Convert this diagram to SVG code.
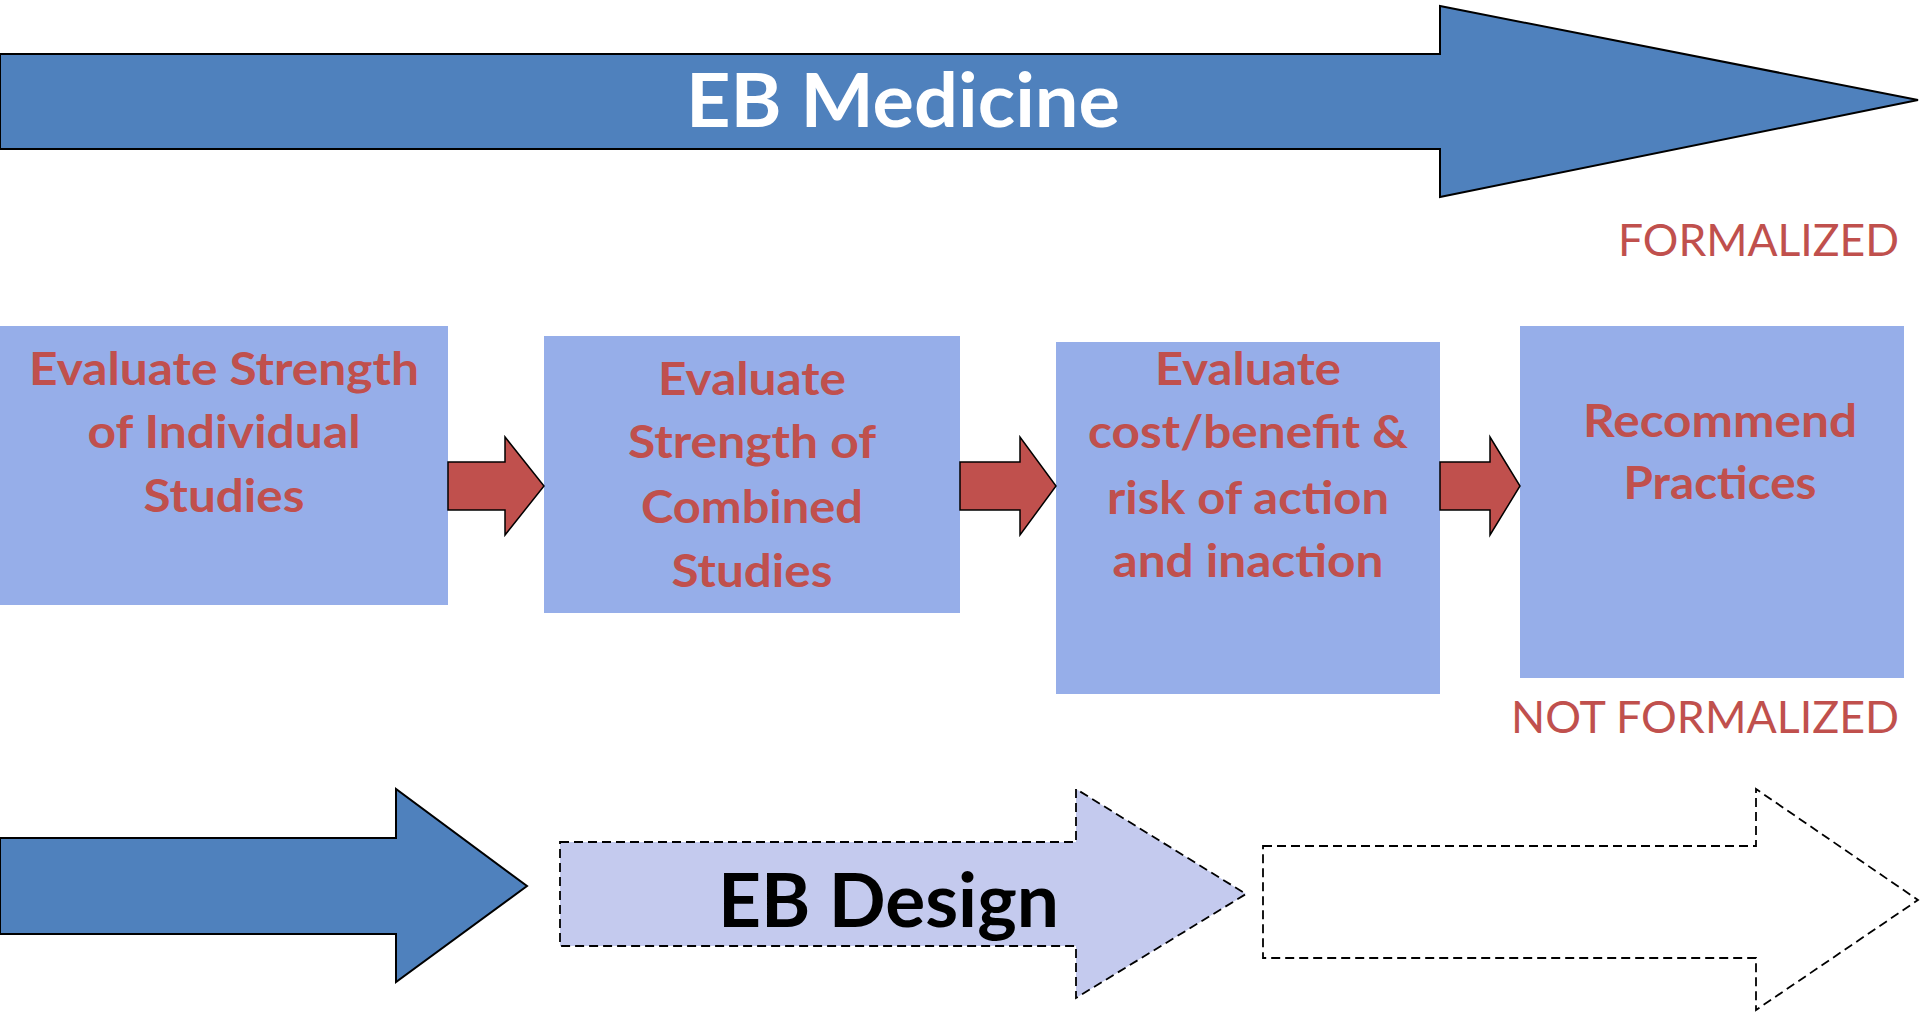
<svg xmlns="http://www.w3.org/2000/svg" width="1920" height="1012" viewBox="0 0 1920 1012">
<style>
.box{fill:#96AEE9;}
.bt{font-family:Lato,"Liberation Sans",sans-serif;font-weight:bold;font-size:46px;fill:#C0504D;text-anchor:middle;}
.lbl{font-family:Lato,"Liberation Sans",sans-serif;font-size:45px;fill:#C0504D;}
.big{font-family:Lato,"Liberation Sans",sans-serif;font-weight:bold;font-size:75px;}
.conn{fill:#C0504D;stroke:#000;stroke-width:1.5;stroke-linejoin:miter;}
.dash{stroke:#000;stroke-width:1.8;stroke-dasharray:9 5;}
</style>
<rect width="1920" height="1012" fill="#fff"/>
<g id="eb-medicine">
<path d="M0,54 H1440 V6 L1918,100 L1440,197 V149 H0 Z" fill="#4F81BD" stroke="#000" stroke-width="2"/>
<text class="big" x="686" y="127" fill="#fff" textLength="434" lengthAdjust="spacingAndGlyphs">EB Medicine</text>
</g>
<g id="label-formalized">
<text class="lbl" x="1618" y="256" textLength="281" lengthAdjust="spacingAndGlyphs">FORMALIZED</text>
</g>
<g id="label-not-formalized">
<text class="lbl" x="1511" y="733" textLength="388" lengthAdjust="spacingAndGlyphs">NOT FORMALIZED</text>
</g>
<g id="step1">
<rect class="box" x="0" y="326" width="448" height="279"/>
<text class="bt"><tspan x="224" y="385" textLength="390" lengthAdjust="spacingAndGlyphs">Evaluate Strength</tspan><tspan x="224" y="448" textLength="273" lengthAdjust="spacingAndGlyphs">of Individual</tspan><tspan x="224" y="512" textLength="161" lengthAdjust="spacingAndGlyphs">Studies</tspan></text>
</g>
<g id="step2">
<rect class="box" x="544" y="336" width="416" height="277"/>
<text class="bt"><tspan x="752" y="395" textLength="188" lengthAdjust="spacingAndGlyphs">Evaluate</tspan><tspan x="752" y="458" textLength="248" lengthAdjust="spacingAndGlyphs">Strength of</tspan><tspan x="752" y="523" textLength="222" lengthAdjust="spacingAndGlyphs">Combined</tspan><tspan x="752" y="587" textLength="161" lengthAdjust="spacingAndGlyphs">Studies</tspan></text>
</g>
<g id="step3">
<rect class="box" x="1056" y="342" width="384" height="352"/>
<text class="bt"><tspan x="1248" y="385" textLength="186" lengthAdjust="spacingAndGlyphs">Evaluate</tspan><tspan x="1248" y="448" textLength="320" lengthAdjust="spacingAndGlyphs">cost/benefit &amp;</tspan><tspan x="1248" y="514" textLength="282" lengthAdjust="spacingAndGlyphs">risk of action</tspan><tspan x="1248" y="577" textLength="271" lengthAdjust="spacingAndGlyphs">and inaction</tspan></text>
</g>
<g id="step4">
<rect class="box" x="1520" y="326" width="384" height="352"/>
<text class="bt"><tspan x="1720" y="437" textLength="274" lengthAdjust="spacingAndGlyphs">Recommend</tspan><tspan x="1720" y="499" textLength="193" lengthAdjust="spacingAndGlyphs">Practices</tspan></text>
</g>
<g id="connectors">
<path class="conn" d="M448,462 H505 V437 L544,486 L505,535 V510 H448 Z"/>
<path class="conn" d="M960,462 H1020 V437 L1056,486 L1020,535 V510 H960 Z"/>
<path class="conn" d="M1440,462 H1490 V437 L1520,486 L1490,535 V510 H1440 Z"/>
</g>
<g id="blue-arrow">
<path d="M0,838 H396 V789 L527,886 L396,982 V934 H0 Z" fill="#4F81BD" stroke="#000" stroke-width="2"/>
</g>
<g id="eb-design">
<path class="dash" d="M560,842 H1076 V789 L1246,894 L1076,998 V946 H560 Z" fill="#C4CAEE"/>
<text class="big" x="718" y="927" fill="#000" textLength="341" lengthAdjust="spacingAndGlyphs">EB Design</text>
</g>
<g id="future-arrow">
<path class="dash" d="M1263,846 H1756 V789 L1918,900 L1756,1010 V958 H1263 Z" fill="#fff"/>
</g>
</svg>
